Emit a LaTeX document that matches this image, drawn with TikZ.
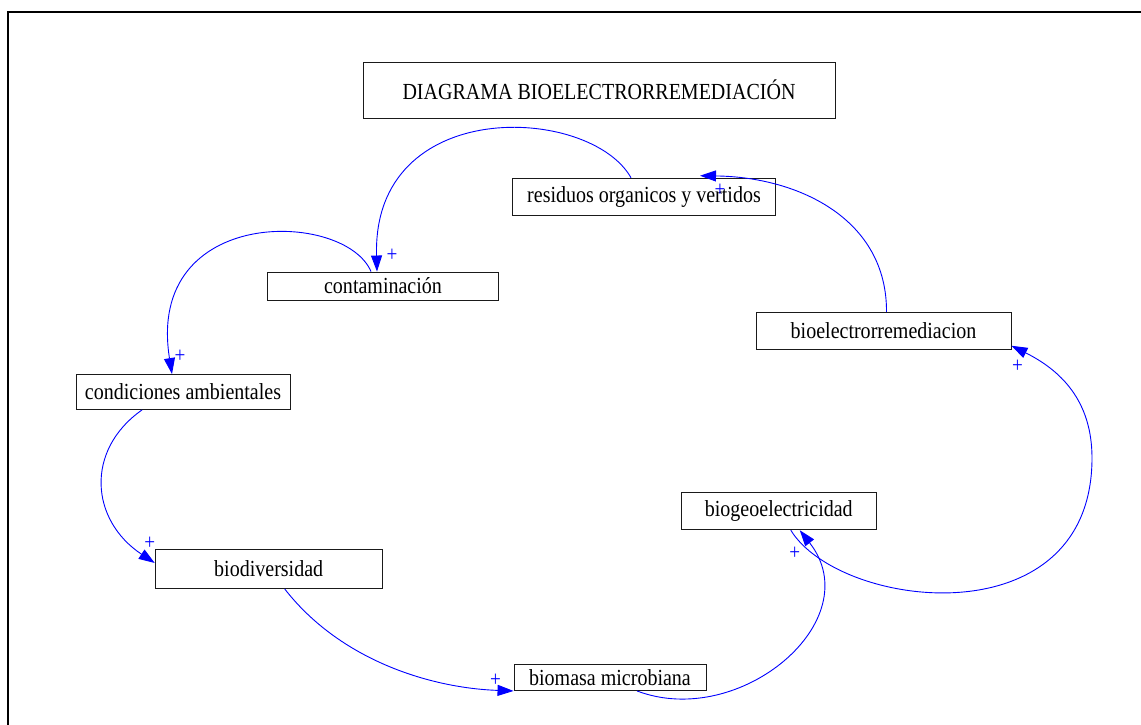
\documentclass[tikz,border=0pt]{standalone}
\usepackage{fontspec}
\setmainfont{Liberation Serif}[FakeStretch=0.87]
\usepackage{tikz}
\usetikzlibrary{arrows.meta, positioning}
\definecolor{brLink}{HTML}{0000FF}
\definecolor{brLine}{HTML}{1A1A1A}
\tikzset{
  br-var/.style={
    rectangle, draw=brLine, line width=0.9pt, fill=white,
    inner sep=0pt, align=center,
    font=\fontsize{23}{26}\selectfont
  },
  br-title/.style={br-var, minimum width=472pt, minimum height=56pt},
  br-link/.style={-{Triangle[length=16pt,width=11pt]}, draw=brLink, line width=0.9pt},
  br-sign/.style={text=brLink, inner sep=0pt, font=\fontsize{22}{22}\selectfont},
}
\begin{document}
\begin{tikzpicture}[x=1pt, y=-1pt]
  \useasboundingbox (0,0) rectangle (1141,725);
  % frame
  \draw[line width=2pt] (8,730) -- (8,11.7) -- (1150,11.7);

  \node[br-title] (title) at (599,90) {DIAGRAMA BIOELECTRORREMEDIACIÓN};
  \node[br-var, minimum width=263pt, minimum height=37pt] (resid) at (644,196.7) {residuos organicos y vertidos};
  \node[br-var, minimum width=231pt, minimum height=28pt] (cont)  at (383,286)   {contaminación};
  \node[br-var, minimum width=214pt, minimum height=35pt] (cond)  at (183,392)   {condiciones ambientales};
  \node[br-var, minimum width=227pt, minimum height=39pt] (biod)  at (268.7,569) {biodiversidad};
  \node[br-var, minimum width=192pt, minimum height=26pt] (biom)  at (610,677.5) {biomasa microbiana};
  \node[br-var, minimum width=195pt, minimum height=37pt] (biog)  at (778.8,511.3) {biogeoelectricidad};
  \node[br-var, minimum width=255pt, minimum height=37pt] (bioe)  at (883.5,330.8) {bioelectrorremediacion};

  % causal links
  \draw[br-link] ([xshift=-13pt]resid.north) .. controls (590,105) and (372,95) .. ([xshift=-6pt]cont.north)
    node[br-sign, at end, xshift=15pt, yshift=16pt] {+};
  \draw[br-link] ([xshift=-12pt]cont.north) .. controls (345,210) and (145,205) .. ([xshift=-11pt]cond.north)
    node[br-sign, at end, xshift=8pt, yshift=18pt] {+};
  \draw[br-link] ([xshift=-41pt]cond.south) .. controls (85,450) and (90,520) .. ([yshift=6pt]biod.west)
    node[br-sign, at end, xshift=-5pt, yshift=20pt] {+};
  \draw[br-link] ([xshift=16pt]biod.south) .. controls (340,660) and (430,688) .. (biom.south west)
    node[br-sign, at end, xshift=-18pt, yshift=11pt] {+};
  \draw[br-link] ([xshift=27pt]biom.south) .. controls (740,730) and (870,620) .. ([xshift=21pt]biog.south)
    node[br-sign, at end, xshift=-5pt, yshift=-23pt] {+};
  \draw[br-link] ([xshift=12pt]biog.south) .. controls (840,610) and (1092,640) .. (1092,458)
    .. controls (1092,400) and (1060,370) .. ([yshift=4pt]bioe.south east)
    node[br-sign, at end, xshift=6pt, yshift=-21pt] {+};
  \draw[br-link] ([xshift=3pt]bioe.north) .. controls (887,220) and (800,177) .. ([xshift=56pt,yshift=2pt]resid.north)
    node[br-sign, at end, xshift=20pt, yshift=-15pt] {+};
\end{tikzpicture}
\end{document}
